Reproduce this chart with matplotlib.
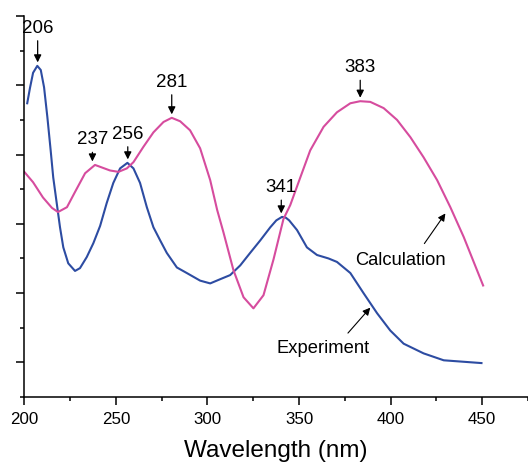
import matplotlib
matplotlib.use('Agg')
import matplotlib.pyplot as plt
from matplotlib.ticker import MultipleLocator

plt.rcParams['font.family'] = ['Liberation Sans', 'DejaVu Sans']

#-- dati (unita' arbitrarie sull'asse y)
exp_wl = [201.6, 203.1, 204.8, 207.1, 209.0, 210.8, 212.6, 214.4, 215.8, 217.7,
          219.5, 221.3, 224.0, 227.7, 230.4, 234.1, 237.7, 241.4, 245.0, 248.6,
          252.3, 256.3, 259.6, 263.2, 266.9, 270.5, 274.2, 277.8, 283.3, 288.7,
          296.0, 301.5, 306.9, 312.4, 317.9, 323.3, 328.8, 334.3, 337.6, 340.7,
          342.7, 344.6, 348.9, 354.3, 359.8, 366.1, 370.7, 378.0, 385.2, 392.6,
          399.8, 407.1, 418.0, 429.0, 449.6]
exp_abs = [3.74, 3.96, 4.18, 4.28, 4.22, 3.97, 3.54, 3.06, 2.67, 2.30,
           1.95, 1.66, 1.43, 1.32, 1.36, 1.52, 1.72, 1.97, 2.30, 2.59,
           2.80, 2.88, 2.80, 2.59, 2.24, 1.95, 1.76, 1.58, 1.37, 1.29,
           1.18, 1.14, 1.20, 1.26, 1.40, 1.58, 1.76, 1.95, 2.05, 2.10,
           2.09, 2.05, 1.91, 1.66, 1.55, 1.50, 1.45, 1.29, 1.00, 0.71,
           0.46, 0.27, 0.13, 0.03, -0.01]

calc_wl = [200.0, 204.8, 210.2, 215.1, 218.4, 223.3, 227.7, 233.2, 238.6, 246.8,
           251.4, 256.0, 259.6, 265.0, 270.5, 276.0, 280.5, 285.1, 290.5, 296.0,
           301.5, 305.3, 308.7, 314.2, 319.7, 325.1, 330.6, 336.1, 341.5, 345.2,
           350.7, 356.1, 363.4, 370.7, 378.0, 383.4, 388.9, 396.2, 403.5, 410.8,
           418.0, 425.4, 432.6, 439.9, 450.5]
calc_abs = [2.75, 2.60, 2.38, 2.23, 2.17, 2.24, 2.46, 2.73, 2.85, 2.77,
            2.75, 2.80, 2.89, 3.11, 3.32, 3.47, 3.53, 3.48, 3.35, 3.09,
            2.63, 2.20, 1.88, 1.33, 0.94, 0.78, 0.97, 1.49, 2.07, 2.27,
            2.67, 3.06, 3.40, 3.61, 3.74, 3.77, 3.76, 3.67, 3.50, 3.25,
            2.96, 2.63, 2.24, 1.81, 1.11]

# picchi: etichetta, lunghezza d'onda, valore al picco, distanza del testo
peak_lab = ["206", "237", "256", "281", "341", "383"]
peak_wl = [207.3, 237.2, 256.5, 280.5, 340.3, 383.4]
peak_val = [4.28, 2.85, 2.88, 3.53, 2.10, 3.77]
peak_gap = [0.48, 0.30, 0.35, 0.45, 0.36, 0.42]
#--

fig = plt.figure(figsize=(5.28, 4.63), dpi=100)
ax = fig.add_axes([0.046, 0.1425, 0.954, 0.823])

ax.plot(exp_wl, exp_abs, color='#2d4ca2', linewidth=1.5)
ax.plot(calc_wl, calc_abs, color='#d64c9e', linewidth=1.5)

#-- annotazioni picchi
for lab, px, py, gap in zip(peak_lab, peak_wl, peak_val, peak_gap):
    ax.annotate(lab, xy=(px, py + 0.05), xytext=(px, py + gap),
                ha='center', va='baseline', fontsize=13.5,
                arrowprops=dict(arrowstyle='-|>', color='black', lw=0.9,
                                mutation_scale=11, shrinkA=1, shrinkB=0,
                                relpos=(0.5, 0)))

ax.annotate("Calculation", xy=(429.9, 2.15), xytext=(405.3, 1.47),
            ha='center', va='center', fontsize=13.2,
            arrowprops=dict(arrowstyle='-|>', color='black', lw=0.8,
                            mutation_scale=11, shrinkA=5, shrinkB=0,
                            relpos=(0.7, 1)))
ax.annotate("Experiment", xy=(388.9, 0.79), xytext=(363.2, 0.20),
            ha='center', va='center', fontsize=13.2,
            arrowprops=dict(arrowstyle='-|>', color='black', lw=0.8,
                            mutation_scale=11, shrinkA=4, shrinkB=0,
                            relpos=(0.7, 1)))
#--

#-- formattazione assi
ax.set_xlim(200, 475)
ax.set_ylim(-0.5, 5.0)
ax.spines['top'].set_visible(False)
ax.spines['right'].set_visible(False)
ax.spines['left'].set_linewidth(1.1)
ax.spines['bottom'].set_linewidth(1.1)

ax.xaxis.set_major_locator(MultipleLocator(50))
ax.xaxis.set_minor_locator(MultipleLocator(25))
ax.yaxis.set_major_locator(MultipleLocator(1))
ax.yaxis.set_minor_locator(MultipleLocator(0.5))
ax.tick_params(which='major', length=5.5, width=1.1, direction='out')
ax.tick_params(which='minor', length=3, width=1.1, direction='out')
ax.tick_params(axis='x', labelsize=12.2, pad=5)
ax.tick_params(axis='y', which='both', labelleft=False)

ax.set_xlabel("Wavelength (nm)", fontsize=17.5, labelpad=10)
#--

fig.savefig("out.png", dpi=100)
plt.close("all")
